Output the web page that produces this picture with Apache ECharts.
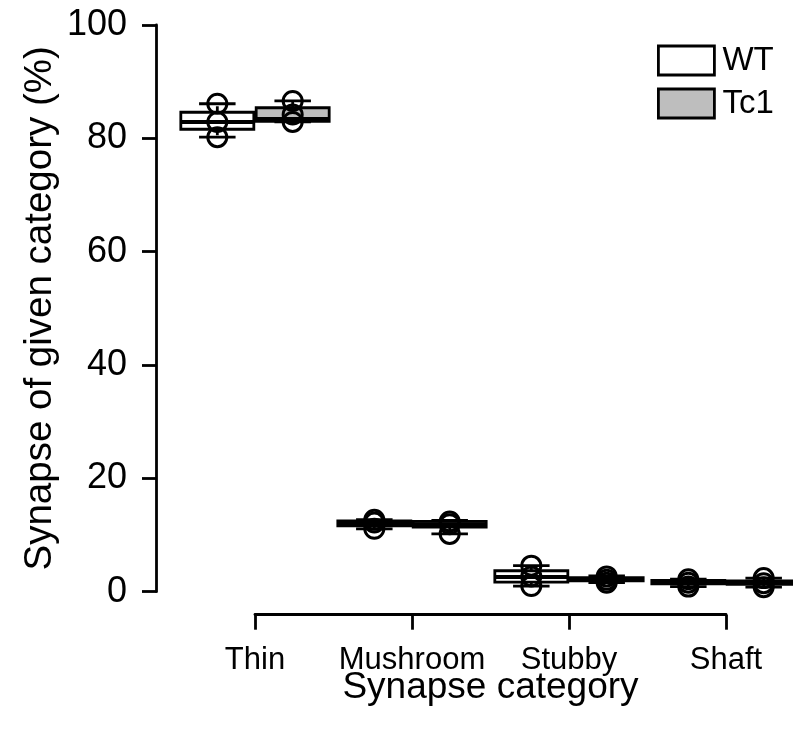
<!DOCTYPE html>
<html>
<head>
<meta charset="utf-8">
<script src="https://cdn.jsdelivr.net/npm/echarts@6/dist/echarts.min.js"></script>
<style>
html,body{margin:0;padding:0;background:#fff;}
#chart{width:793px;height:733px;}
</style>
</head>
<body>
<div id="chart"></div>
<script>
// ---- data ----
const categories = ['Thin', 'Mushroom', 'Stubby', 'Shaft'];
const groups = ['WT', 'Tc1'];
// box stats: [min, Q1, median, Q3, max]
const wtBox = [
  [80.2, 81.6, 82.9, 84.6, 86.1],
  [11.1, 11.6, 12.0, 12.5, 12.7],
  [1.0, 1.7, 2.6, 3.7, 4.6],
  [0.9, 1.4, 1.7, 2.0, 2.2]
];
const tc1Box = [
  [82.9, 83.0, 83.4, 85.4, 86.6],
  [10.2, 11.4, 11.9, 12.4, 12.6],
  [1.6, 1.9, 2.2, 2.5, 2.8],
  [0.8, 1.3, 1.6, 1.9, 2.4]
];
// individual observations
const wtPoints = [
  [86.1, 82.9, 80.2],
  [12.7, 12.2, 11.1],
  [4.6, 2.7, 1.0],
  [2.2, 1.6, 0.9]
];
const tc1Points = [
  [86.6, 84.2, 82.9],
  [12.4, 11.9, 10.2],
  [2.7, 2.1, 1.6],
  [2.4, 1.5, 0.8]
];
const yTicks = [0, 20, 40, 60, 80, 100];

// ---- layout / style constants ----
const groupOffset = [-0.24, 0.24];
const boxWidthUnits = 0.465;
const fills = ['#ffffff', '#bebebe'];
const FONT = 'Liberation Sans, Arial, Helvetica, sans-serif';

function boxData(stats, g) {
  return stats.map((s, i) => [i + groupOffset[g]].concat(s));
}
function pointData(pts, g) {
  const out = [];
  pts.forEach((arr, i) => arr.forEach(v => out.push([i + groupOffset[g], v])));
  return out;
}

function makeRender(fill) {
  return function (params, api) {
    const x = api.value(0);
    const yMin = api.coord([x, api.value(1)])[1];
    const yQ1 = api.coord([x, api.value(2)])[1];
    const yMed = api.coord([x, api.value(3)])[1];
    const yQ3 = api.coord([x, api.value(4)])[1];
    const yMax = api.coord([x, api.value(5)])[1];
    const cx = api.coord([x, api.value(3)])[0];
    const w = api.size([boxWidthUnits, 0])[0];
    const h = w / 2, ch = w / 4;
    const ls = {stroke: '#000', lineWidth: 2.8};
    return {
      type: 'group',
      children: [
        {type: 'line', shape: {x1: cx, y1: yQ3, x2: cx, y2: yMax}, style: {stroke: '#000', lineWidth: 2.8, lineDash: [6, 4]}},
        {type: 'line', shape: {x1: cx, y1: yQ1, x2: cx, y2: yMin}, style: {stroke: '#000', lineWidth: 2.8, lineDash: [6, 4]}},
        {type: 'line', shape: {x1: cx - ch, y1: yMax, x2: cx + ch, y2: yMax}, style: ls},
        {type: 'line', shape: {x1: cx - ch, y1: yMin, x2: cx + ch, y2: yMin}, style: ls},
        {type: 'rect', shape: {x: cx - h, y: yQ3, width: w, height: yQ1 - yQ3}, style: {fill: fill, stroke: '#000', lineWidth: 2.8}},
        {type: 'line', shape: {x1: cx - h, y1: yMed, x2: cx + h, y2: yMed}, style: {stroke: '#000', lineWidth: 4}}
      ]
    };
  };
}

const chart = echarts.init(document.getElementById('chart'), null, {renderer: 'canvas'});
const boxes = [wtBox, tc1Box];
const points = [wtPoints, tc1Points];
const series = [];
groups.forEach((g, gi) => {
  series.push({
    name: g,
    type: 'custom',
    clip: false,
    renderItem: makeRender(fills[gi]),
    itemStyle: {color: fills[gi], borderColor: '#000', borderWidth: 2.8},
    encode: {x: 0, y: [1, 2, 3, 4, 5]},
    data: boxData(boxes[gi], gi),
    z: 2
  });
});
groups.forEach((g, gi) => {
  series.push({
    name: g + ' points',
    type: 'scatter',
    clip: false,
    symbol: 'circle',
    symbolSize: 19,
    itemStyle: {color: 'rgba(0,0,0,0)', borderColor: '#000', borderWidth: 3, opacity: 1},
    data: pointData(points[gi], gi),
    z: 5
  });
});

chart.setOption({
  animation: false,
  backgroundColor: '#fff',
  textStyle: {fontFamily: FONT},
  grid: {left: 255, width: 471, top: 25, height: 566.7},
  legend: {
    orient: 'vertical',
    left: 652,
    top: 39,
    itemWidth: 56,
    itemHeight: 29,
    itemGap: 10,
    selectedMode: false,
    textStyle: {fontSize: 33, color: '#000', fontFamily: FONT, padding: [0, 0, 0, 3]},
    data: groups.map((g, gi) => ({name: g, icon: 'rect', itemStyle: {color: fills[gi], borderColor: '#000', borderWidth: 2.8}}))
  },
  xAxis: {
    type: 'value',
    min: 0,
    max: categories.length - 1,
    interval: 1,
    offset: 23,
    name: 'Synapse category',
    nameLocation: 'middle',
    nameGap: 55,
    nameMoveOverlap: false,
    nameTextStyle: {fontSize: 37, color: '#000', fontFamily: FONT},
    axisLine: {show: true, onZero: false, lineStyle: {color: '#000', width: 2.8}},
    axisTick: {show: true, length: 15, lineStyle: {color: '#000', width: 2.8}},
    axisLabel: {fontSize: 31, color: '#000', margin: 30, fontFamily: FONT, formatter: v => categories[Math.round(v)] || ''},
    splitLine: {show: false}
  },
  yAxis: {
    type: 'value',
    min: yTicks[0],
    max: yTicks[yTicks.length - 1],
    interval: yTicks[1] - yTicks[0],
    offset: 99,
    name: 'Synapse of given category (%)',
    nameLocation: 'middle',
    nameRotate: 90,
    nameGap: 96,
    nameMoveOverlap: false,
    nameTextStyle: {fontSize: 38.5, color: '#000', fontFamily: FONT},
    axisLine: {show: true, onZero: false, lineStyle: {color: '#000', width: 2.8}},
    axisTick: {show: true, length: 14, lineStyle: {color: '#000', width: 2.8}},
    axisLabel: {fontSize: 36, color: '#000', margin: 29, fontFamily: FONT},
    splitLine: {show: false}
  },
  series: series
});
</script>
</body>
</html>
